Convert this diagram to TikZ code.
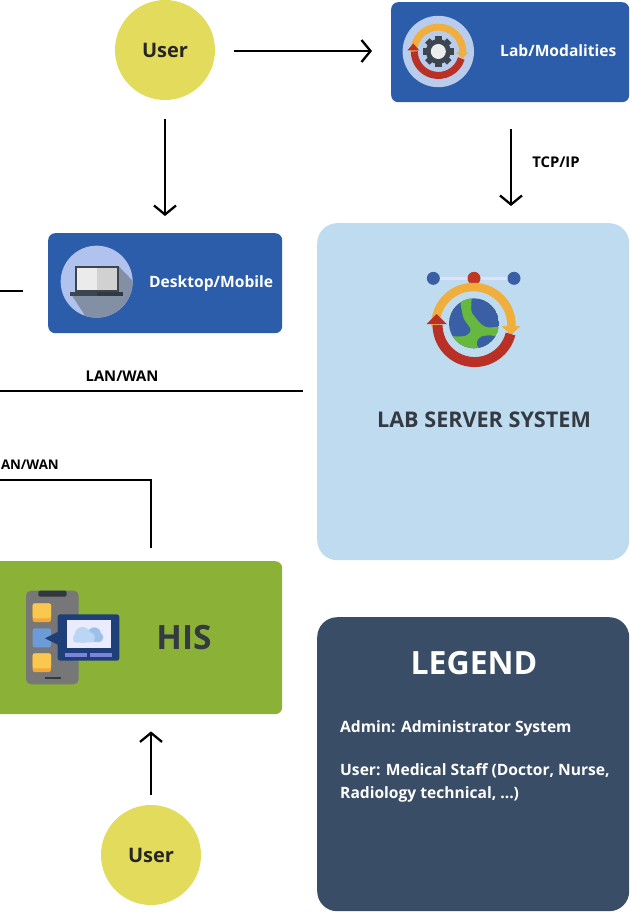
\documentclass[tikz,border=0pt]{standalone}
\usepackage{fontspec}
\setmainfont{Open Sans}
\usetikzlibrary{arrows.meta}
\definecolor{boxblue}{HTML}{2B5DAA}
\definecolor{userY}{HTML}{E3DB5C}
\definecolor{srv}{HTML}{BFDBEF}
\definecolor{hisG}{HTML}{8BB237}
\definecolor{leg}{HTML}{3A4D66}
\definecolor{ink}{HTML}{333A42}
\definecolor{halo}{HTML}{B9CCEC}
\definecolor{amber}{HTML}{F0AE3C}
\definecolor{redarc}{HTML}{B93026}
\definecolor{navy}{HTML}{1F3F78}
\definecolor{globe}{HTML}{3B5FA5}
\definecolor{land}{HTML}{66B83E}
\definecolor{gph}{HTML}{777777}
\definecolor{dk}{HTML}{3C4650}
\definecolor{cloudA}{HTML}{BBD5F4}
\definecolor{cloudB}{HTML}{9DC0EA}
\definecolor{squareA}{HTML}{FBC84F}
\definecolor{squareB}{HTML}{F2A73A}
\definecolor{squareC}{HTML}{6C9BD8}
\tikzset{
 x=1pt,y=-1pt,
 userc/.style={circle,fill=userY,minimum size=100pt,inner sep=0pt,text=black!85,font=\bfseries\fontsize{20}{22}\selectfont},
 panel/.style={rectangle,rounded corners=7pt,inner sep=0pt,anchor=north west},
 bluebox/.style={panel,fill=boxblue},
 lbl/.style={text=white,font=\bfseries\fontsize{15.6}{18}\selectfont,inner sep=0pt},
 conlbl/.style={text=black,font=\bfseries\fontsize{14.8}{16}\selectfont,inner sep=0pt},
 conn/.style={draw=black,line width=2.5pt},
 arr/.style={conn,-{Straight Barb[length=9pt,width=22pt,line width=2.3pt]}},
 iconup/.style={x=1pt,y=1pt},
 zoomed/.style={x=0.33333pt,y=-0.33333pt},
}
\begin{document}
\begin{tikzpicture}
\useasboundingbox (0,0) rectangle (629,912);
\begin{scope}
\clip (0,0) rectangle (629,912);
% panels
\node[bluebox,minimum width=238pt,minimum height=100pt] (lab) at (391,2) {};
\node[bluebox,minimum width=234pt,minimum height=100pt] (desk) at (48,233) {};
\node[panel,fill=srv,rounded corners=20pt,minimum width=312pt,minimum height=337pt] (server) at (317,223) {};
\node[panel,fill=hisG,minimum width=302pt,minimum height=153pt] (his) at (-20,561) {};
\node[panel,fill=leg,rounded corners=20pt,minimum width=312pt,minimum height=294pt] (legend) at (317,617) {};
\node[userc] (user1) at (165,50) {User};
\node[userc] (user2) at (151,855) {User};
% labels
\node[lbl,anchor=west] (labt) at (500,51) {Lab/Modalities};
\node[lbl,anchor=west] (deskt) at (149,283) {Desktop/Mobile};
\node[text=ink,inner sep=0pt,font=\bfseries\fontsize{21.6}{25}\selectfont] (srvt) at (484,420) {LAB SERVER SYSTEM};
\node[text=ink,inner sep=0pt,font=\bfseries\fontsize{33.5}{36}\selectfont] (hist) at (184,638) {HIS};
\node[text=white,inner sep=0pt,font=\bfseries\fontsize{32}{34}\selectfont] (legt) at (474,663) {LEGEND};
\node[lbl,anchor=west] (l1) at (340,728) {Admin: Administrator System};
\node[lbl,anchor=west] (l2) at (340,771) {User: Medical Staff (Doctor, Nurse,};
\node[lbl,anchor=west] (l3) at (340,794) {Radiology technical, ...)};
% connectors
\coordinate (a) at (0,291); \coordinate (a2) at (23,291);
\coordinate (b) at (0,391); \coordinate (b2) at (303,391);
\coordinate (c) at (0,480); \coordinate (c2) at (151,480);
\draw[arr,shorten <=19pt,shorten >=19pt] ([yshift=-1pt]user1.east) -- ([yshift=-1pt]lab.west |- user1);
\draw[arr,shorten <=19pt,shorten >=17pt] (user1) -- (user1 |- desk.north);
\coordinate (tcptop) at (511,102);
\draw[arr,shorten <=27pt,shorten >=17pt] (tcptop) -- (tcptop |- server.north);
\draw[conn] (a) -- (a2);
\draw[conn] (b) -- (b2);
\draw[conn] (c) -- (c2) -- ([yshift=13pt]c2 |- his.north);
\draw[arr,shorten <=10pt,shorten >=17pt] (user2) -- (user2 |- his.south);
\node[conlbl] (tcp) at (556,162) {TCP/IP};
\node[conlbl] (lan1) at (122,376) {LAN/WAN};
\node[conlbl,anchor=east,font=\bfseries\fontsize{13.3}{16}\selectfont] (lan2) at (59,465) {AN/WAN};
% lab icon
\begin{scope}[shift={(438.3,51.5)},iconup]
 \fill[halo] (0,0) circle (35.7);
 \draw[amber,line width=7pt] (-24.5,-1) arc[start angle=182,end angle=-2,radius=24.5];
 \fill[amber] (18,-1) -- (30,-1) -- (24,-7) -- cycle;
 \draw[redarc,line width=7pt] (23,-7) arc[start angle=-17,end angle=-180,radius=24];
 \fill[redarc] (-31,1) -- (-19,1) -- (-25,8) -- cycle;
 \foreach \t in {0,45,...,315}{\fill[dk,rotate=\t] (-3.2,10) rectangle (3.2,15.5);}
 \fill[dk] (0,0) circle (12.5);
 \fill[white!93!black] (0,0) circle (7.5);
\end{scope}
% server icon
\begin{scope}[shift={(400,255)},zoomed]
 \draw[white!88!blue,line width=3pt] (100,70) -- (342,70);
 \fill[globe] (100,70) circle (19.5);
 \fill[globe] (342,70) circle (19.5);
 \fill[redarc!90!orange] (222,70) circle (19.5);
 \begin{scope}
  \clip (222,205) circle (75);
  \fill[globe] (222,205) circle (75);
  \fill[land,rounded corners=2pt] (180,125) -- (215,125) -- (213,170) -- (240,205) -- (260,218) -- (305,215) -- (305,305) -- (140,305) -- (140,238) -- (165,245) -- (200,243) -- (215,225) -- (190,190) -- (182,150) -- cycle;
  \fill[globe,rounded corners=2pt] (228,265) -- (240,245) -- (270,240) -- (305,250) -- (270,280) -- (240,285) -- cycle;
 \end{scope}
\end{scope}
\begin{scope}[shift={(473.5,325)},iconup]
 \draw[amber,line width=8.5pt] (-38,-2) arc[start angle=183,end angle=-3,radius=38];
 \fill[amber] (28,-1) -- (47,-1) -- (37.5,-10) -- cycle;
 \draw[redarc,line width=10pt] (37,-9) arc[start angle=-14,end angle=-180,radius=37];
 \fill[redarc] (-47,1) -- (-27,1) -- (-37,11) -- cycle;
\end{scope}
% laptop icon
\begin{scope}[shift={(40,230)},zoomed]
 \fill[halo!95!blue] (170,155) circle (108);
 \begin{scope}
  \clip (170,155) circle (108);
  \fill[black!30!halo] (235,108) -- (300,175) -- (300,300) -- (150,280) -- (95,195) -- cycle;
 \end{scope}
 \fill[dk] (105,107) rectangle (237,187);
 \fill[white!92!black] (112,115) rectangle (171,181);
 \fill[black!18!white] (171,115) rectangle (230,181);
 \fill[dk] (90,187) rectangle (250,197);
 \fill[dk!80!black] (170,187) rectangle (250,197);
\end{scope}
% HIS icon
\begin{scope}[shift={(0,560)},zoomed]
 \fill[gph,rounded corners=5pt] (78,92) rectangle (236,373);
 \fill[dk!80!black,rounded corners=2pt] (115,92) rectangle (200,110);
 \fill[dk!80!black] (135,351) rectangle (182,358);
 \fill[squareB,rounded corners=2pt] (98,130) rectangle (153,186);
 \fill[squareA,rounded corners=2pt] (98,130) rectangle (153,175);
 \fill[squareC,rounded corners=2pt] (98,205) rectangle (153,262);
 \fill[squareB,rounded corners=2pt] (98,280) rectangle (153,336);
 \fill[squareA,rounded corners=2pt] (98,280) rectangle (153,325);
 \fill[navy,rounded corners=2.5pt] (173,163) rectangle (358,302);
 \fill[navy] (175,215) -- (175,255) -- (135,235) -- cycle;
 \fill[blue!8!white] (200,181) rectangle (332,265);
 \fill[cloudB] (283,222) circle (20);
 \fill[cloudB] (295,232) circle (15);
 \fill[cloudB] (270,225) rectangle (300,247);
 \fill[cloudA] (248,225) circle (24);
 \fill[cloudA] (232,234) circle (13);
 \fill[cloudA] (270,232) circle (15);
 \fill[cloudA,rounded corners=2pt] (220,230) rectangle (282,247);
 \fill[navy!50!blue!55!white] (195,280) rectangle (262,290);
 \fill[navy!50!blue!55!white] (270,280) rectangle (337,290);
\end{scope}
\end{scope}
\end{tikzpicture}
\end{document}
